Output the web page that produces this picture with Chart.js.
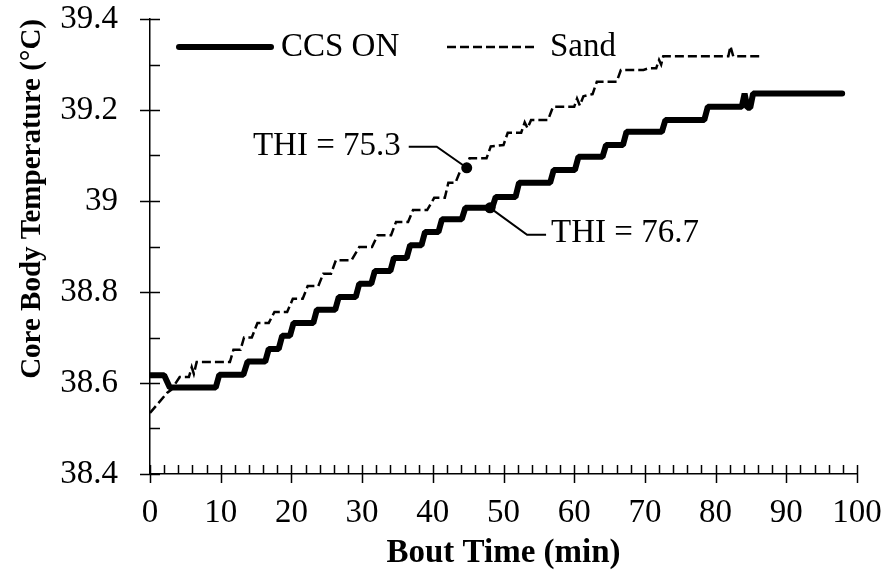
<!DOCTYPE html>
<html>
<head>
<meta charset="utf-8">
<script src="https://cdn.jsdelivr.net/npm/chart.js@4/dist/chart.umd.min.js"></script>
<style>
  html, body { margin: 0; padding: 0; background: #fff; }
  #wrap { width: 887px; height: 576px; }
</style>
</head>
<body>
<div id="wrap"><canvas id="tempChart" width="887" height="576"></canvas></div>
<script>
// bout time (min) and core body temperature (°C)
const ccsTime = [0, 2, 2.8, 9.3, 9.8, 13.2, 13.8, 16.3, 16.8, 18.2, 18.7, 19.8, 20.3, 23.1, 23.6, 26.2, 26.7, 29.1, 29.6, 31.3, 31.8, 34.0, 34.5, 36.3, 36.8, 38.4, 38.9, 40.8, 41.3, 44.1, 44.6, 48.4, 48.9, 51.7, 52.2, 56.6, 57.1, 60.1, 60.6, 64.0, 64.5, 66.9, 67.4, 72.4, 72.9, 78.4, 78.9, 83.7, 84.1, 84.5, 84.9, 85.3, 97.9];
const ccsTemp = [38.617, 38.617, 38.59, 38.59, 38.618, 38.618, 38.647, 38.647, 38.675, 38.675, 38.704, 38.704, 38.732, 38.732, 38.761, 38.761, 38.789, 38.789, 38.818, 38.818, 38.846, 38.846, 38.875, 38.875, 38.903, 38.903, 38.932, 38.932, 38.96, 38.96, 38.985, 38.985, 39.009, 39.009, 39.04, 39.04, 39.068, 39.068, 39.097, 39.097, 39.123, 39.123, 39.152, 39.152, 39.178, 39.178, 39.207, 39.207, 39.236, 39.205, 39.205, 39.236, 39.236];

const sandTime = [0, 2.4, 3, 4.2, 5.5, 5.9, 6.2, 6.6, 11.3, 11.8, 12.8, 13.3, 14.4, 15.2, 16.8, 17.6, 19.4, 20.2, 21.6, 22.3, 23.8, 24.5, 25.6, 26.3, 28.5, 29.6, 31.4, 32.2, 34.1, 34.8, 36.5, 37.2, 39.2, 40.2, 41.7, 42.2, 43.2, 43.8, 44.6, 45.2, 47.6, 48.2, 50, 50.6, 52.5, 53, 53.4, 53.9, 56.3, 57, 60, 60.4, 60.8, 61.3, 62.6, 63.2, 66, 66.6, 69.8, 70.6, 71.6, 72, 72.3, 72.6, 81.8, 82.1, 82.5, 86.7];
const sandTemp = [38.534, 38.578, 38.585, 38.613, 38.613, 38.635, 38.62, 38.646, 38.646, 38.673, 38.673, 38.70, 38.70, 38.732, 38.732, 38.756, 38.756, 38.785, 38.785, 38.813, 38.813, 38.84, 38.84, 38.87, 38.87, 38.899, 38.899, 38.925, 38.925, 38.954, 38.954, 38.98, 38.98, 39.007, 39.007, 39.04, 39.04, 39.063, 39.07, 39.094, 39.094, 39.12, 39.123, 39.15, 39.15, 39.173, 39.16, 39.178, 39.178, 39.207, 39.207, 39.225, 39.21, 39.23, 39.235, 39.262, 39.262, 39.288, 39.288, 39.292, 39.292, 39.31, 39.3, 39.318, 39.318, 39.34, 39.318, 39.318];

// THI call-out points: [sand, ccs on]
const thiLabels = ["THI = 75.3", "THI = 76.7"];
const thiTime = [44.8, 48.1];
const thiTemp = [39.073, 38.985];

const xTicks = [0, 10, 20, 30, 40, 50, 60, 70, 80, 90, 100];
const yTicks = [38.4, 38.6, 38.8, 39, 39.2, 39.4];

const FONT = "'Liberation Serif', 'Times New Roman', serif";
const FS = 33;

function toPoints(xs, ys) {
  return xs.map((x, i) => ({ x: x, y: ys[i] }));
}

// crossing major ticks, one-sided minor ticks, legend and THI call-outs
const decorPlugin = {
  id: "decor",
  afterDatasetsDraw(chart) {
    const ctx = chart.ctx;
    const xs = chart.scales.x;
    const ys = chart.scales.y;
    const x0 = xs.getPixelForValue(0);
    const y0 = ys.getPixelForValue(38.4);

    ctx.save();
    ctx.strokeStyle = "#000";
    ctx.lineWidth = 1.5;
    ctx.beginPath();
    for (let i = 0; i <= 10; i++) {
      const v = 38.4 + i * 0.1;
      const py = Math.round(ys.getPixelForValue(v)) + 0.5;
      if (i % 2 === 0) { ctx.moveTo(x0 - 10, py); ctx.lineTo(x0 + 10, py); }
      else { ctx.moveTo(x0, py); ctx.lineTo(x0 + 10, py); }
    }
    for (let i = 0; i <= 50; i++) {
      const px = Math.round(xs.getPixelForValue(i * 2)) + 0.5;
      if (i % 5 === 0) { ctx.moveTo(px, y0 - 9); ctx.lineTo(px, y0 + 9); }
      else { ctx.moveTo(px, y0 - 9); ctx.lineTo(px, y0); }
    }
    ctx.stroke();

    // legend
    ctx.font = FS + "px " + FONT;
    ctx.fillStyle = "#000";
    ctx.textBaseline = "middle";
    ctx.lineCap = "round";
    ctx.lineWidth = 6;
    ctx.beginPath(); ctx.moveTo(179, 47); ctx.lineTo(271, 47); ctx.stroke();
    ctx.fillText("CCS ON", 281, 47);
    ctx.lineCap = "butt";
    ctx.lineWidth = 2.5;
    ctx.setLineDash([9, 4]);
    ctx.beginPath(); ctx.moveTo(447, 47); ctx.lineTo(538, 47); ctx.stroke();
    ctx.setLineDash([]);
    ctx.fillText("Sand", 550, 47);

    // THI call-outs
    const p1 = { x: xs.getPixelForValue(thiTime[0]), y: ys.getPixelForValue(thiTemp[0]) };
    const p2 = { x: xs.getPixelForValue(thiTime[1]), y: ys.getPixelForValue(thiTemp[1]) };
    ctx.lineWidth = 2;
    ctx.beginPath();
    ctx.moveTo(p1.x, p1.y); ctx.lineTo(p1.x - 30, p1.y - 21); ctx.lineTo(p1.x - 58, p1.y - 21);
    ctx.moveTo(p2.x, p2.y); ctx.lineTo(p2.x + 37, p2.y + 27); ctx.lineTo(p2.x + 56, p2.y + 27);
    ctx.stroke();
    ctx.textAlign = "right";
    ctx.fillText(thiLabels[0], p1.x - 66, p1.y - 21);
    ctx.textAlign = "left";
    ctx.fillText(thiLabels[1], p2.x + 61, p2.y + 26);
    ctx.restore();
  }
};

const ctx = document.getElementById("tempChart");

new Chart(ctx, {
  type: "line",
  data: {
    datasets: [
      {
        label: "CCS ON",
        data: toPoints(ccsTime, ccsTemp),
        borderColor: "#000",
        borderWidth: 6,
        pointRadius: 0,
        tension: 0,
        borderCapStyle: "round",
        borderJoinStyle: "bevel"
      },
      {
        label: "Sand",
        data: toPoints(sandTime, sandTemp),
        borderColor: "#000",
        borderWidth: 2.5,
        borderDash: [9, 4],
        pointRadius: 0,
        tension: 0
      },
      {
        label: "THI",
        data: toPoints(thiTime, thiTemp),
        showLine: false,
        pointRadius: 5.5,
        pointBackgroundColor: "#000",
        pointBorderWidth: 0
      }
    ]
  },
  options: {
    responsive: false,
    animation: false,
    layout: { padding: { top: 19, right: 30, left: 0, bottom: 0 } },
    plugins: {
      legend: { display: false },
      tooltip: { enabled: false }
    },
    scales: {
      x: {
        type: "linear",
        min: 0,
        max: 100,
        afterBuildTicks: s => { s.ticks = xTicks.map(v => ({ value: v })); },
        afterFit: s => { s.height = 102; s.paddingLeft = 0; s.paddingRight = 0; },
        grid: { display: true, drawOnChartArea: false, drawTicks: false },
        border: { display: true, color: "#000", width: 1.5 },
        ticks: { color: "#000", padding: 20, maxRotation: 0, font: { family: FONT, size: FS } },
        title: {
          display: true,
          text: "Bout Time (min)",
          color: "#000",
          padding: { top: 0, bottom: 3 },
          font: { family: FONT, size: FS, weight: "bold" }
        }
      },
      y: {
        min: 38.4,
        max: 39.4,
        afterBuildTicks: s => { s.ticks = yTicks.map(v => ({ value: v })); },
        afterFit: s => { s.width = 150; s.paddingTop = 0; s.paddingBottom = 0; },
        grid: { display: true, drawOnChartArea: false, drawTicks: false },
        border: { display: true, color: "#000", width: 1.5 },
        ticks: {
          color: "#000",
          padding: 32,
          font: { family: FONT, size: FS },
          callback: v => String(+v.toFixed(1))
        },
        title: {
          display: true,
          text: "Core Body Temperature (°C)",
          color: "#000",
          align: "end",
          padding: { top: 15, bottom: 0 },
          font: { family: FONT, size: 29, weight: "bold" }
        }
      }
    }
  },
  plugins: [decorPlugin]
});
</script>
</body>
</html>
